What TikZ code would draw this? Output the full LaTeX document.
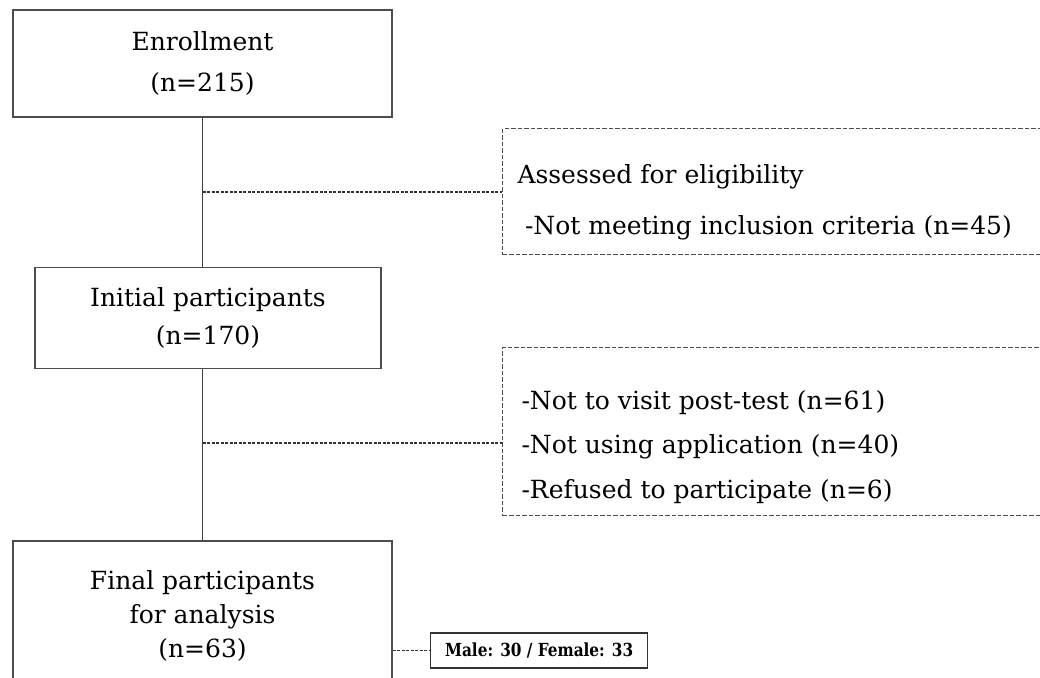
\documentclass[tikz,border=0pt]{standalone}
\usepackage{fontspec}
\setmainfont{DejaVu Serif}
\usetikzlibrary{positioning}

\tikzset{
    stagebox/.style={rectangle, draw=black!70, line width=1.6pt, align=center, font=\fontsize{25}{38}\selectfont},
    exclbox/.style={rectangle, draw=black!70, line width=1.1pt, dash pattern=on 4.5pt off 2pt, anchor=north west},
    excltext/.style={anchor=west, align=left},
    notebox/.style={rectangle, draw=black!80, line width=1.4pt, font=\bfseries\fontsize{18}{20}\selectfont, inner sep=0pt},
    link/.style={draw=black!75, line width=1.7pt},
    dlink/.style={draw=black!80, line width=1.1pt, dash pattern=on 3pt off 1.5pt}
}

\begin{document}
\begin{tikzpicture}[x=1pt, y=-1pt]
    \useasboundingbox (0,0) rectangle (1040,677);
    \clip (0,0) rectangle (1040,677);

    % Main stages
    \node[stagebox, minimum width=379pt, minimum height=107pt, font=\fontsize{25}{41}\selectfont] (enroll) at (202.5,63.5) {Enrollment\\(n=215)};
    \node[stagebox, minimum width=346pt, minimum height=101pt] (init) at (208,318) {Initial participants\\(n=170)};
    \node[stagebox, minimum width=379pt, minimum height=150pt, anchor=north, font=\fontsize{25}{34}\selectfont] (final) at (202.5,540) {Final participants\\for analysis\\(n=63)};

    % Exclusion boxes
    \node[exclbox, minimum width=600pt, minimum height=126pt] (excl1) at (502,128) {};
    \node[excltext, font=\fontsize{25}{51}\selectfont] (excl1txt) at (514,202) {Assessed for eligibility\\\hspace{0.3em}-Not meeting inclusion criteria (n=45)};
    \node[exclbox, minimum width=600pt, minimum height=168pt] (excl2) at (502,347) {};
    \node[excltext, font=\fontsize{25}{44.5}\selectfont] (excl2txt) at (518,447) {-Not to visit post-test (n=61)\\-Not using application (n=40)\\-Refused to participate (n=6)};

    % Sex split
    \node[notebox, anchor=west, minimum width=217pt, minimum height=35pt] (sex) at (430,650.5) {\scalebox{0.85}[1]{Male: 30 / Female: 33}};

    % Connections
    \draw[link] (enroll.south) -- (enroll.south |- init.north);
    \draw[link] (enroll.south |- init.south) -- (final.north);
    \coordinate (j1) at (202.5,192);
    \coordinate (j2) at (202.5,443);
    \draw[dlink] (j1) -- (excl1.west |- j1);
    \draw[dlink] (j2) -- (excl2.west |- j2);
    \draw[dlink] (final.east |- sex) -- (sex.west);
\end{tikzpicture}
\end{document}
